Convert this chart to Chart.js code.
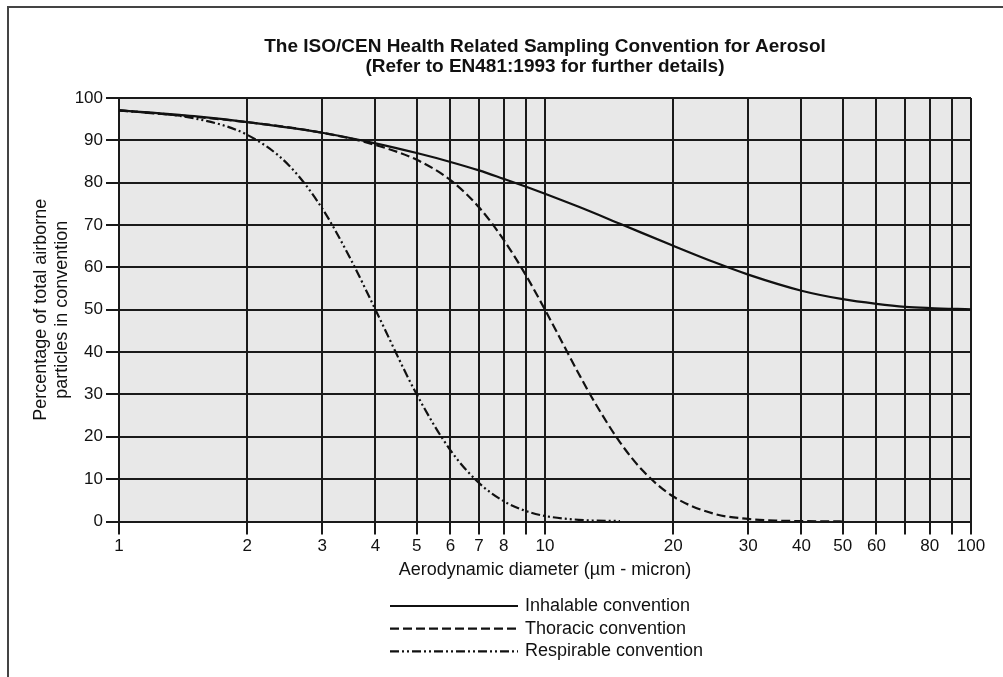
<!DOCTYPE html>
<html>
<head>
<meta charset="utf-8">
<title>ISO/CEN sampling convention</title>
<script src="https://cdn.jsdelivr.net/npm/chart.js@4.4.1/dist/chart.umd.min.js"></script>
<style>
  html, body { margin: 0; padding: 0; background: #fff; overflow: hidden; }
  #wrap { position: relative; width: 1003px; height: 677px; }
  #frame { position: absolute; left: 7px; top: 6px; width: 1200px; height: 900px;
           border-left: 2px solid #444; border-top: 2px solid #444; }
  #chart { position: absolute; left: 0; top: 0; }
</style>
</head>
<body>
<div id="wrap">
  <div id="frame"></div>
  <canvas id="chart" width="1003" height="677"></canvas>
</div>
<script>
// values (diameter in um, percent)
var inhalableD   = [1, 1.5, 2, 3, 4, 5, 6, 7, 8, 9, 10, 12, 15, 20, 25, 30, 40, 50, 60, 70, 80, 100];
var inhalableVal = [97.1, 95.7, 94.3, 91.8, 89.3, 87.0, 84.9, 82.9, 80.9, 79.1, 77.4, 74.3, 70.3, 65.1, 61.2, 58.3, 54.5, 52.5, 51.4, 50.7, 50.4, 50.1];

var thoracicD   = [1, 2, 3, 4, 5, 6, 7, 8, 9, 10, 11, 12, 13, 15, 17, 20, 25, 30, 35, 40, 50];
var thoracicVal = [97.1, 94.3, 91.8, 88.9, 85.4, 80.6, 74.2, 66.5, 58.3, 50.0, 42.1, 34.9, 28.6, 18.7, 11.9, 5.9, 1.8, 0.6, 0.2, 0.1, 0.0];

var respirableD   = [1, 1.5, 2, 2.5, 3, 3.5, 4, 5, 6, 7, 8, 9, 10, 12, 15];
var respirableVal = [97.1, 95.2, 91.3, 84.2, 73.9, 61.9, 50.0, 30.0, 16.8, 9.1, 4.8, 2.5, 1.3, 0.4, 0.1];

var seriesNames = ['Inhalable convention', 'Thoracic convention', 'Respirable convention'];

var xTicks      = [1, 2, 3, 4, 5, 6, 7, 8, 9, 10, 20, 30, 40, 50, 60, 70, 80, 90, 100];
var xTickLabels = ['1', '2', '3', '4', '5', '6', '7', '8', '', '10', '20', '30', '40', '50', '60', '', '80', '', '100'];
var yTicks      = [0, 10, 20, 30, 40, 50, 60, 70, 80, 90, 100];

var titleLines  = ['The ISO/CEN Health Related Sampling Convention for Aerosol', '(Refer to EN481:1993 for further details)'];
var xTitle      = 'Aerodynamic diameter (\u00b5m - micron)';
var yTitle      = ['Percentage of total airborne', 'particles in convention'];

var fontFamily = '"Liberation Sans", Arial, Helvetica, sans-serif';
var ink = '#111';

function toPoints(xs, ys) {
  return xs.map(function(x, i) { return { x: x, y: ys[i] }; });
}

// grey plot background
var plotBackground = {
  id: 'plotBackground',
  beforeDraw: function(chart, args, opts) {
    var a = chart.chartArea, ctx = chart.ctx;
    ctx.save();
    ctx.fillStyle = opts.color;
    ctx.fillRect(a.left, a.top, a.right - a.left, a.bottom - a.top);
    ctx.restore();
  }
};

// stacked legend with long line samples, like the printed figure
var lineLegend = {
  id: 'lineLegend',
  afterDraw: function(chart, args, opts) {
    var ctx = chart.ctx;
    ctx.save();
    ctx.font = opts.fontSize + 'px ' + fontFamily;
    ctx.textBaseline = 'middle';
    ctx.fillStyle = ink;
    chart.data.datasets.forEach(function(ds, i) {
      var y = opts.top + i * opts.rowHeight;
      ctx.strokeStyle = ds.borderColor;
      ctx.lineWidth = ds.borderWidth;
      ctx.setLineDash(ds.borderDash || []);
      ctx.beginPath();
      ctx.moveTo(opts.left, y);
      ctx.lineTo(opts.left + opts.lineLength, y);
      ctx.stroke();
      ctx.setLineDash([]);
      ctx.fillText(ds.label, opts.left + opts.lineLength + opts.gap, y);
    });
    ctx.restore();
  }
};

var gridOpts = { color: '#1a1a1a', lineWidth: 2, tickLength: 13, tickColor: '#1a1a1a' };

var ctx = document.getElementById('chart').getContext('2d');
var chart = new Chart(ctx, {
  type: 'line',
  data: {
    datasets: [{
      label: seriesNames[0],
      data: toPoints(inhalableD, inhalableVal),
      borderColor: ink,
      borderWidth: 2.2
    }, {
      label: seriesNames[1],
      data: toPoints(thoracicD, thoracicVal),
      borderColor: ink,
      borderWidth: 2.2,
      borderDash: [9, 4]
    }, {
      label: seriesNames[2],
      data: toPoints(respirableD, respirableVal),
      borderColor: ink,
      borderWidth: 2.2,
      borderDash: [9, 3, 2, 3, 2, 3]
    }]
  },
  options: {
    responsive: false,
    animation: false,
    devicePixelRatio: 1,
    layout: { padding: { top: 0, left: 0, right: 32, bottom: 96 } },
    elements: {
      point: { radius: 0, hoverRadius: 0 },
      line: { cubicInterpolationMode: 'monotone', fill: false }
    },
    font: { family: fontFamily },
    color: ink,
    plugins: {
      legend: { display: false },
      tooltip: { enabled: false },
      title: {
        display: true,
        fullSize: false,
        text: titleLines,
        color: ink,
        font: { family: fontFamily, size: 19, weight: 'bold', lineHeight: 1.05 },
        padding: { top: 37, bottom: 21.1 }
      },
      plotBackground: { color: '#e8e8e8' },
      lineLegend: { left: 390, top: 606, rowHeight: 22.7, lineLength: 128, gap: 7, fontSize: 18 }
    },
    scales: {
      x: {
        type: 'logarithmic',
        min: 1,
        max: 100,
        afterBuildTicks: function(scale) {
          scale.ticks = xTicks.map(function(v) { return { value: v }; });
        },
        ticks: {
          autoSkip: false,
          maxRotation: 0,
          padding: 2,
          color: ink,
          font: { size: 17 },
          callback: function(value) { return xTickLabels[xTicks.indexOf(value)]; }
        },
        grid: gridOpts,
        border: { color: '#1a1a1a', width: 2 },
        title: { display: true, text: xTitle, color: ink, font: { size: 18 }, padding: { top: 0.5, bottom: 0 } }
      },
      y: {
        min: 0,
        max: 100,
        afterBuildTicks: function(scale) {
          scale.ticks = yTicks.map(function(v) { return { value: v }; });
        },
        afterFit: function(scale) { scale.width = 119; },
        ticks: { padding: 3, color: ink, font: { size: 17 } },
        grid: gridOpts,
        border: { color: '#1a1a1a', width: 2 },
        title: { display: true, text: yTitle, color: ink, font: { size: 18 }, padding: { top: 30, bottom: 0 } }
      }
    }
  },
  plugins: [plotBackground, lineLegend]
});
</script>
</body>
</html>
